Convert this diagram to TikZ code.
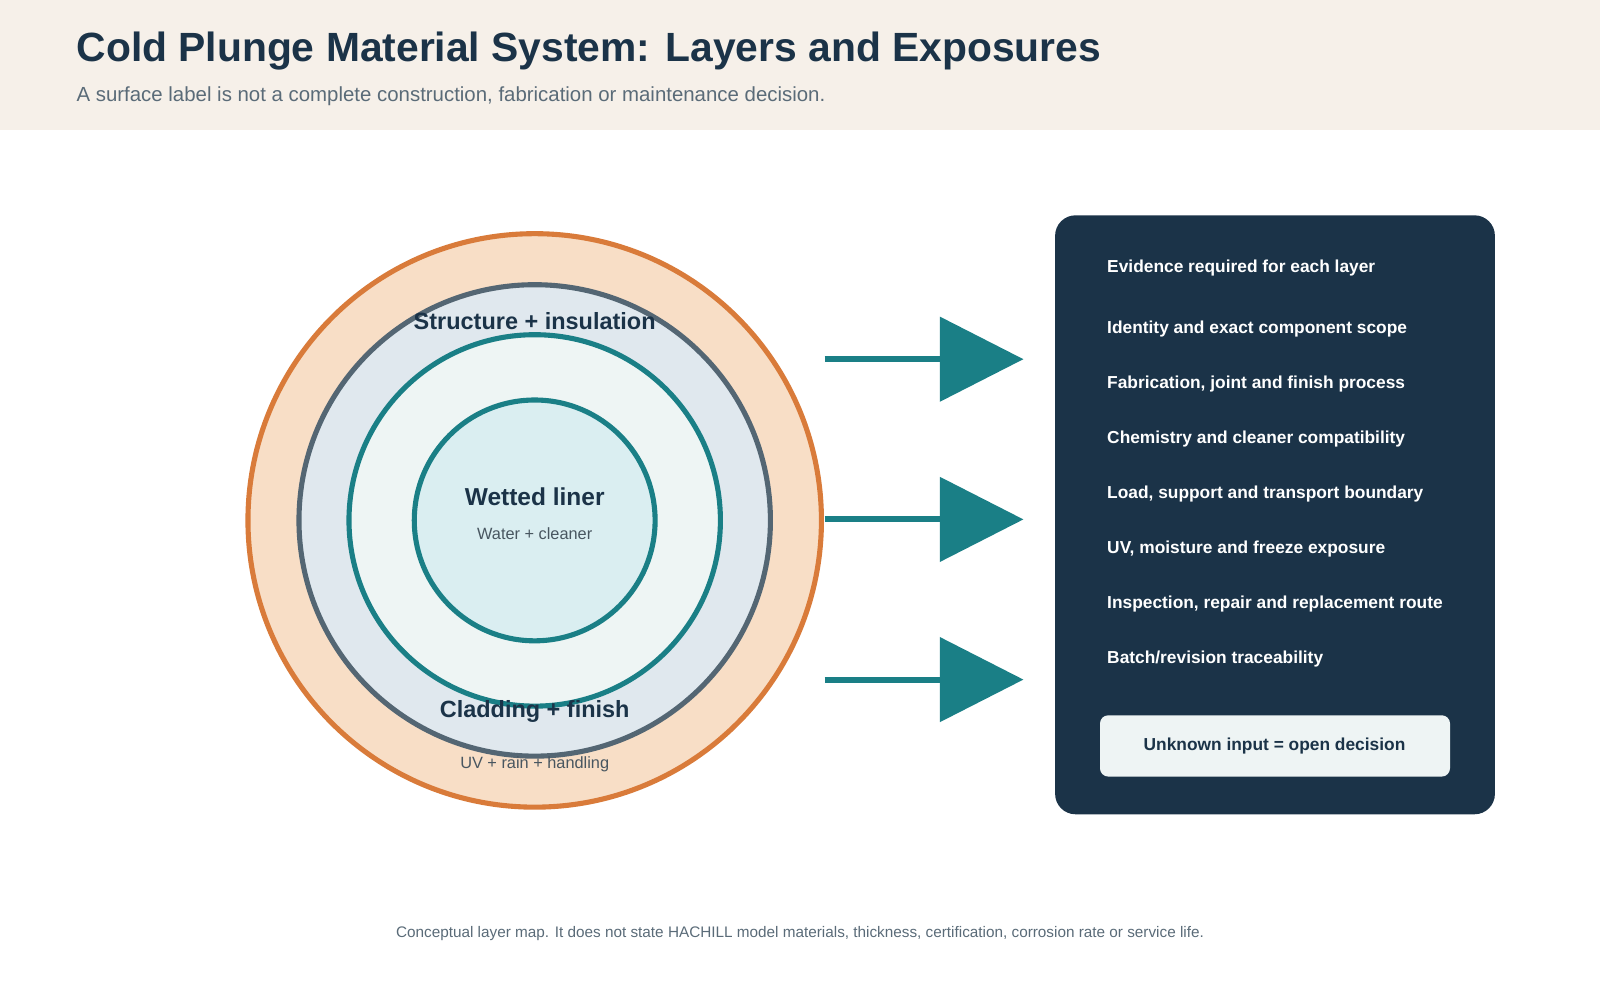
\documentclass[tikz,border=0pt]{standalone}
\usepackage{fontspec}
\setmainfont{Liberation Sans}
\usetikzlibrary{arrows.meta}
\definecolor{navy}{HTML}{1B3348}
\definecolor{teal}{HTML}{1A7F86}
\definecolor{slate}{HTML}{546673}
\definecolor{rust}{HTML}{D97B3A}
\definecolor{greytext}{HTML}{5A6B78}
\definecolor{sand}{HTML}{F6F0E9}
\definecolor{peach}{HTML}{F8DEC6}
\definecolor{mist}{HTML}{E0E8EE}
\definecolor{pale}{HTML}{EEF5F4}
\definecolor{aqua}{HTML}{DAEEF1}
\definecolor{chip}{HTML}{EEF4F4}
\tikzset{
  ring/.style={line width=2.5pt},
  item/.style={anchor=west, text=white, font=\fontsize{8.5}{10}\selectfont\bfseries},
  flow/.style={teal, line width=3pt, -{Triangle[length=41pt,width=41pt]}},
}
\begin{document}
\begin{tikzpicture}[x=0.5pt,y=-0.5pt]
\useasboundingbox (0,0) rectangle (1568,980);
% header
\fill[sand] (0,0) rectangle (1568,127);
\node[anchor=west, text=navy, font=\fontsize{20}{24}\selectfont\bfseries] (title) at (68,50) {Cold Plunge Material System: Layers and Exposures};
\node[anchor=west, text=greytext, font=\fontsize{10}{12}\selectfont] (subtitle) at (68,94) {A surface label is not a complete construction, fabrication or maintenance decision.};
% layers
\draw[ring, rust, fill=peach] (524,510) circle[radius=281];
\draw[ring, slate, fill=mist] (524,510) circle[radius=231];
\draw[ring, teal, fill=pale] (524,510) circle[radius=182];
\draw[ring, teal, fill=aqua] (524,510) circle[radius=118];
\node[text=navy, font=\fontsize{11.5}{14}\selectfont\bfseries] (structure) at (524,315) {Structure + insulation};
\node[text=navy, font=\fontsize{12}{14}\selectfont\bfseries] (liner) at (524,487) {Wetted liner};
\node[text=greytext!80!black, font=\fontsize{8}{10}\selectfont] (water) at (524,523) {Water + cleaner};
\node[text=navy, font=\fontsize{11.5}{14}\selectfont\bfseries] (cladding) at (524,697) {Cladding + finish};
\node[text=greytext!80!black, font=\fontsize{8}{10}\selectfont] (weather) at (524,749) {UV + rain + handling};
% arrows
\foreach \y/\n in {352/a,509/b,666/c}{
  \coordinate (s\n) at (808,\y);
  \coordinate (e\n) at (1003,\y);
  \draw[flow] (s\n) -- (e\n);
}
% evidence panel
\fill[navy, rounded corners=10pt] (1034,211) rectangle (1465,798);
\node[item] (head) at (1078,263) {Evidence required for each layer};
\node[item] (i1) at (1078,322) {Identity and exact component scope};
\node[item] (i2) at (1078,376) {Fabrication, joint and finish process};
\node[item] (i3) at (1078,430) {Chemistry and cleaner compatibility};
\node[item] (i4) at (1078,484) {Load, support and transport boundary};
\node[item] (i5) at (1078,538) {UV, moisture and freeze exposure};
\node[item] (i6) at (1078,592) {Inspection, repair and replacement route};
\node[item] (i7) at (1078,646) {Batch/revision traceability};
\fill[chip, rounded corners=4pt] (1078,701) rectangle (1421,761);
\node[text=navy, font=\fontsize{8.5}{10}\selectfont\bfseries] (unknown) at (1249,731) {Unknown input = open decision};
% footer
\node[text=greytext, font=\fontsize{7.5}{9}\selectfont] (footer) at (784,915) {Conceptual layer map. It does not state HACHILL model materials, thickness, certification, corrosion rate or service life.};
\end{tikzpicture}
\end{document}
